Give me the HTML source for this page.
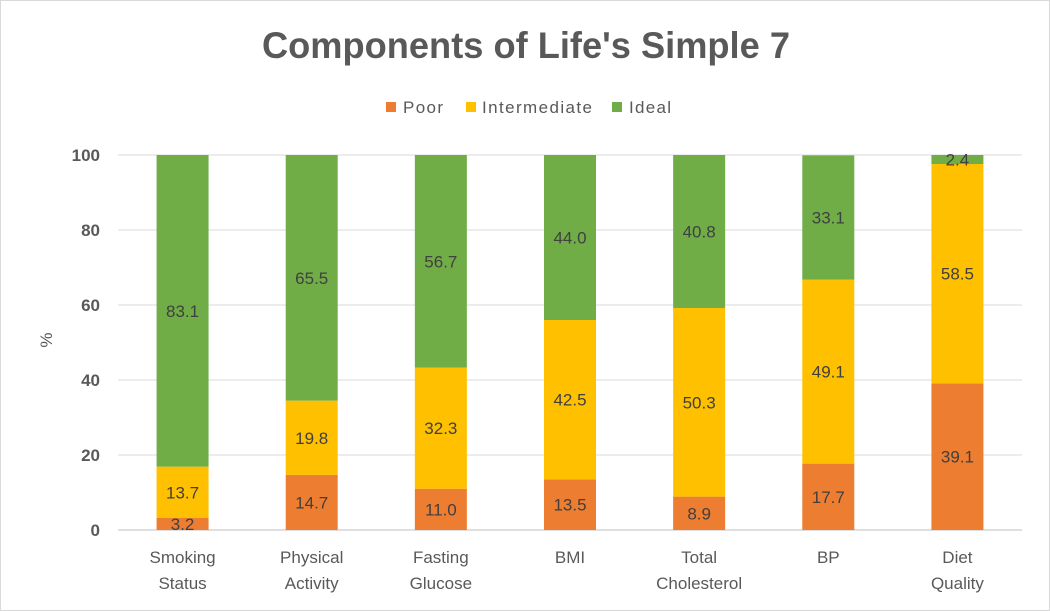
<!DOCTYPE html>
<html><head><meta charset="utf-8">
<style>
html,body{margin:0;padding:0;background:#fff;}
body{width:1050px;height:611px;overflow:hidden;font-family:"Liberation Sans",sans-serif;}
#frame{position:absolute;left:0;top:0;width:1048px;height:609px;border:1px solid #d9d9d9;}
</style></head>
<body>
<div id="frame"></div>
<svg id="chart" width="1050" height="611" style="position:absolute;left:0;top:0">
<text x="526" y="58" text-anchor="middle" font-size="37" font-weight="bold" fill="#595959" textLength="528" lengthAdjust="spacingAndGlyphs">Components of Life's Simple 7</text>
<g>
<g><rect x="386" y="102" width="10" height="10" fill="#ED7D31"/><text x="403" y="113" font-size="17" fill="#595959" textLength="40">Poor</text></g>
<g><rect x="466" y="102" width="10" height="10" fill="#FFC000"/><text x="482" y="113" font-size="17" fill="#595959" textLength="110">Intermediate</text></g>
<g><rect x="612" y="102" width="10" height="10" fill="#70AD47"/><text x="629" y="113" font-size="17" fill="#595959" textLength="42">Ideal</text></g>
</g>
<text transform="translate(52,340) rotate(-90)" text-anchor="middle" font-size="17" fill="#595959">%</text>
<g id="grid"></g><g id="bars"></g><g id="labels"></g>
</svg>
<script>
const categories=[["Smoking","Status"],["Physical","Activity"],["Fasting","Glucose"],["BMI"],["Total","Cholesterol"],["BP"],["Diet","Quality"]];
const poor=[3.2,14.7,11.0,13.5,8.9,17.7,39.1];
const intermediate=[13.7,19.8,32.3,42.5,50.3,49.1,58.5];
const ideal=[83.1,65.5,56.7,44.0,40.8,33.1,2.4];
const yTicks=[0,20,40,60,80,100];
const seriesNames=["poor","intermediate","ideal"];
const colors=["#ED7D31","#FFC000","#70AD47"];
const NS="http://www.w3.org/2000/svg";
const L=118,R=1022,T=155,B=530;
const y=v=>B-(v/100)*(B-T);
const band=(R-L)/categories.length;
const xc=i=>L+band*(i+0.5);
const bw=52;
function mk(tag,attrs,parent){const e=document.createElementNS(NS,tag);for(const k in attrs)e.setAttribute(k,attrs[k]);parent.appendChild(e);return e;}
const grid=document.getElementById('grid'),bars=document.getElementById('bars'),labels=document.getElementById('labels');
yTicks.forEach(t=>{
  const l=mk('line',{x1:L,x2:R,y1:y(t),y2:y(t),stroke:t===0?'#bfbfbf':'#d9d9d9','stroke-width':1},grid);
  
  
  const tx=mk('text',{x:100,y:y(t)+6,'text-anchor':'end','font-size':17,'font-weight':'bold',fill:'#595959'},grid);
  tx.textContent=t;
  
  
});
const series=[poor,intermediate,ideal];
categories.forEach((c,i)=>{
  let base=0;
  series.forEach((s,k)=>{
    const v=s[i];
    const r=mk('rect',{x:xc(i)-bw/2,y:y(base+v),width:bw,height:y(base)-y(base+v),fill:colors[k]},bars);
    
    
    const t=mk('text',{x:xc(i),y:(y(base)+y(base+v))/2+6,'text-anchor':'middle','font-size':17,fill:'#404040'},labels);
    t.textContent=v.toFixed(1);
    
    
    base+=v;
  });
  c.forEach((line,j)=>{
    const t=mk('text',{x:xc(i),y:563+j*26,'text-anchor':'middle','font-size':17,fill:'#595959'},labels);
    t.textContent=line;
    
    
  });
});
</script>
</body></html>
